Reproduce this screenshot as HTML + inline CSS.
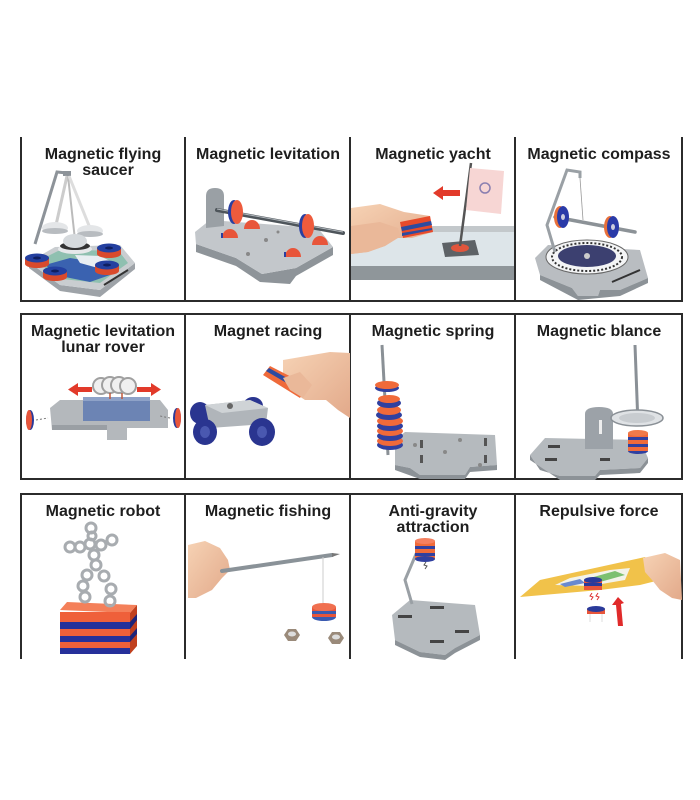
<!DOCTYPE html>
<html><head><meta charset="utf-8"><style>
html,body{margin:0;padding:0;background:#fff;}
svg{display:block;}
text{font-family:"Liberation Sans",Arial,sans-serif;font-weight:bold;font-size:16px;fill:#1e1e1e;text-anchor:middle;}
</style></head><body>
<svg width="700" height="800" viewBox="0 0 700 800" xmlns="http://www.w3.org/2000/svg">
<rect width="700" height="800" fill="#fff"/>
<defs>
<linearGradient id="metal" x1="0" y1="0" x2="0" y2="1"><stop offset="0" stop-color="#d4d8db"/><stop offset="1" stop-color="#9aa0a5"/></linearGradient>
<linearGradient id="skin" x1="0" y1="0" x2="1" y2="1"><stop offset="0" stop-color="#f6d2b4"/><stop offset="1" stop-color="#e2a98a"/></linearGradient>
</defs>

<!-- grid lines -->
<g stroke="#2b2b2b" stroke-width="2" fill="none">
<line x1="21" y1="137" x2="21" y2="302"/><line x1="185" y1="137" x2="185" y2="302"/><line x1="350" y1="137" x2="350" y2="302"/><line x1="515" y1="137" x2="515" y2="302"/><line x1="682" y1="137" x2="682" y2="302"/>
<line x1="20" y1="301" x2="683" y2="301"/>
<rect x="21" y="314" width="661" height="165"/>
<line x1="185" y1="314" x2="185" y2="479"/><line x1="350" y1="314" x2="350" y2="479"/><line x1="515" y1="314" x2="515" y2="479"/>
<line x1="20" y1="494" x2="683" y2="494"/>
<line x1="21" y1="494" x2="21" y2="659"/><line x1="185" y1="494" x2="185" y2="659"/><line x1="350" y1="494" x2="350" y2="659"/><line x1="515" y1="494" x2="515" y2="659"/><line x1="682" y1="494" x2="682" y2="659"/>
</g>

<!-- titles -->
<text x="103" y="159">Magnetic flying</text><text x="108" y="175">saucer</text>
<text x="268" y="159">Magnetic levitation</text>
<text x="433" y="159">Magnetic yacht</text>
<text x="599" y="159">Magnetic compass</text>
<text x="103" y="336">Magnetic levitation</text><text x="103" y="352">lunar rover</text>
<text x="268" y="336">Magnet racing</text>
<text x="433" y="336">Magnetic spring</text>
<text x="599" y="336">Magnetic blance</text>
<text x="103" y="516">Magnetic robot</text>
<text x="268" y="516">Magnetic fishing</text>
<text x="433" y="516">Anti-gravity</text><text x="433" y="532">attraction</text>
<text x="599" y="516">Repulsive force</text>

<!-- Cell 1: flying saucer -->
<g>
<polygon points="29,268 60,291 100,297 135,269 135,263 100,290 60,285 29,262" fill="#9ea3a8"/>
<polygon points="29,262 55,247 120,245 135,263 100,290 60,285" fill="#c9cdd0"/>
<polygon points="36,262 58,251 118,250 128,263 100,283 62,279" fill="#8fc0b0"/>
<polygon points="45,265 70,258 95,262 110,275 90,282 60,276" fill="#3a62b0"/>
<polygon points="75,255 100,256 112,262 98,268 80,263" fill="#e8eef2"/>
<line x1="104" y1="285" x2="128" y2="270" stroke="#333" stroke-width="2"/>
<polyline points="35,244 57,172 67,173" fill="none" stroke="#8d9399" stroke-width="3"/>
<rect x="63" y="171" width="8" height="5" fill="#8d9399"/>
<line x1="67" y1="176" x2="56" y2="225" stroke="#ccc" stroke-width="3"/>
<line x1="68" y1="176" x2="75" y2="240" stroke="#bbb" stroke-width="2"/>
<line x1="69" y1="176" x2="90" y2="228" stroke="#ddd" stroke-width="3"/>
<ellipse cx="55" cy="228" rx="13" ry="6" fill="#e4e6e8"/><ellipse cx="55" cy="231" rx="13" ry="3" fill="#b8bcc0"/>
<ellipse cx="90" cy="231" rx="13" ry="6" fill="#e4e6e8"/><ellipse cx="90" cy="234" rx="13" ry="3" fill="#b8bcc0"/>
<ellipse cx="75" cy="249" rx="17" ry="5" fill="#e6e8ea"/>
<ellipse cx="75" cy="246" rx="15" ry="4" fill="#333"/>
<ellipse cx="75" cy="241" rx="12" ry="7" fill="#d6dadd"/>
<g>
<rect x="25" y="258" width="24" height="6" fill="#d94a2c"/><ellipse cx="37" cy="264" rx="12" ry="4" fill="#d94a2c"/><ellipse cx="37" cy="258" rx="12" ry="4.5" fill="#2440a0"/><ellipse cx="37" cy="258" rx="4" ry="1.5" fill="#0f1f60"/>
<rect x="97" y="248" width="24" height="6" fill="#d94a2c"/><ellipse cx="109" cy="254" rx="12" ry="4" fill="#d94a2c"/><ellipse cx="109" cy="248" rx="12" ry="4.5" fill="#2440a0"/><ellipse cx="109" cy="248" rx="4" ry="1.5" fill="#0f1f60"/>
<rect x="43" y="271" width="24" height="6" fill="#d94a2c"/><ellipse cx="55" cy="277" rx="12" ry="4" fill="#d94a2c"/><ellipse cx="55" cy="271" rx="12" ry="4.5" fill="#2440a0"/><ellipse cx="55" cy="271" rx="4" ry="1.5" fill="#0f1f60"/>
<rect x="95" y="265" width="24" height="6" fill="#d94a2c"/><ellipse cx="107" cy="271" rx="12" ry="4" fill="#d94a2c"/><ellipse cx="107" cy="265" rx="12" ry="4.5" fill="#2440a0"/><ellipse cx="107" cy="265" rx="4" ry="1.5" fill="#0f1f60"/>
</g>
</g>

<!-- Cell 2: levitation -->
<g>
<polygon points="196,244 236,258 262,274 296,268 333,247 333,255 296,276 290,284 260,282 236,266 196,252" fill="#8e9499"/>
<polygon points="195,232 210,220 318,228 333,247 296,268 262,274 236,258 196,244" fill="#c3c7cb"/>
<path d="M206,228 L206,196 Q206,188 215,188 Q224,188 224,196 L224,226 Z" fill="#9aa0a5"/>
<path d="M222,238 A8,9 0 0 1 238,238 Z" fill="#e8553a"/><path d="M244,229 A8,9 0 0 1 260,229 Z" fill="#e8553a"/>
<path d="M285,257 A8,9 0 0 1 301,257 Z" fill="#e8553a"/><path d="M312,245 A8,9 0 0 1 328,245 Z" fill="#e8553a"/>
<line x1="222" y1="238" x2="222" y2="233" stroke="#2a3fa0" stroke-width="2"/><line x1="285" y1="257" x2="285" y2="252" stroke="#2a3fa0" stroke-width="2"/>
<circle cx="266" cy="240" r="2" fill="#888"/><circle cx="248" cy="254" r="2" fill="#888"/><circle cx="278" cy="232" r="1.5" fill="#888"/>
<line x1="217" y1="210" x2="343" y2="233" stroke="#4e555b" stroke-width="4" stroke-linecap="round"/>
<line x1="217" y1="209" x2="343" y2="232" stroke="#b0b6bb" stroke-width="1"/>
<ellipse cx="234" cy="212" rx="6" ry="12" fill="#2a3fa0"/><ellipse cx="237" cy="212" rx="6" ry="12" fill="#ee5b3d"/>
<ellipse cx="305" cy="226" rx="6" ry="12" fill="#2a3fa0"/><ellipse cx="308" cy="226" rx="6" ry="12" fill="#ee5b3d"/>
</g>

<!-- Cell 3: yacht -->
<g>
<rect x="351" y="226" width="163" height="6" fill="#c3c8cb"/>
<rect x="351" y="232" width="163" height="34" fill="#dde5e9"/>
<rect x="351" y="266" width="163" height="14" fill="#8f969a"/>
<polygon points="442,243 475,240 479,255 445,257" fill="#5d6266"/>
<ellipse cx="460" cy="248" rx="9" ry="4" fill="#e0553c"/>
<line x1="471" y1="163" x2="460" y2="246" stroke="#555" stroke-width="2.5"/>
<polygon points="470,168 504,171 501,214 466,210" fill="#f7d6d4"/>
<circle cx="485" cy="188" r="5" fill="none" stroke="#8a7fb0" stroke-width="1.5"/>
<polygon points="433,193 443,186 443,200" fill="#e23a2a"/><rect x="442" y="190" width="18" height="6" fill="#e23a2a"/>
<polygon points="351,208 380,204 404,212 430,216 433,232 412,238 398,238 385,246 368,252 351,254" fill="url(#skin)"/>
<polygon points="400,222 430,216 433,232 403,238" fill="#e84a2a"/>
<polygon points="401,227 431,221 432,225 402,231" fill="#2d4ba0"/>
<polygon points="402,233 432,228 432,230 402,236" fill="#2d4ba0"/>
<polygon points="351,226 380,222 398,228 400,236 385,246 368,252 351,254" fill="#eab899"/>
</g>

<!-- Cell 4: compass -->
<g>
<polygon points="535,258 548,245 640,250 648,278 620,290 600,290 598,296 578,296 572,288 540,275" fill="#b9bdc1"/>
<polygon points="540,275 572,288 578,296 598,296 600,290 620,290 648,278 648,283 620,296 578,300 540,280" fill="#8c9297"/>
<line x1="612" y1="282" x2="640" y2="270" stroke="#333" stroke-width="2"/>
<ellipse cx="587" cy="257" rx="41" ry="17" fill="#f4f5f6" stroke="#666" stroke-width="1"/>
<ellipse cx="587" cy="257" rx="35" ry="14" fill="none" stroke="#333" stroke-width="2" stroke-dasharray="2,2"/>
<ellipse cx="587" cy="256" rx="29" ry="11" fill="#3c4070"/>
<circle cx="587" cy="256" r="3" fill="#ccc"/>
<polyline points="555,252 547,225 567,170 580,172 580,178" fill="none" stroke="#9aa0a5" stroke-width="3"/>
<line x1="580" y1="178" x2="583" y2="220" stroke="#999" stroke-width="0.8"/>
<line x1="555" y1="217" x2="635" y2="232" stroke="#8c9297" stroke-width="3.5" stroke-linecap="round"/>
<ellipse cx="560" cy="217" rx="6" ry="11" fill="#e8703a"/><ellipse cx="563" cy="217" rx="6" ry="11" fill="#2a3aa8"/><ellipse cx="563" cy="217" rx="2" ry="3" fill="#ccd"/>
<ellipse cx="610" cy="227" rx="6" ry="11" fill="#e8703a"/><ellipse cx="613" cy="227" rx="6" ry="11" fill="#2a3aa8"/><ellipse cx="613" cy="227" rx="2" ry="3" fill="#ccd"/>
</g>

<!-- Cell 5: lunar rover -->
<g>
<polygon points="50,408 60,400 160,400 168,410 168,428 127,428 127,440 107,440 107,430 52,430" fill="#b4b8bc"/>
<polygon points="52,425 107,425 107,430 52,430" fill="#9a9fa4"/>
<rect x="83" y="399" width="67" height="22" fill="#6c84b4"/>
<rect x="83" y="397" width="67" height="4" fill="#8ea2c8"/>
<g fill="#f0f0f0" stroke="#a0a0a0" stroke-width="2">
<circle cx="101" cy="386" r="8"/><circle cx="110" cy="385" r="8"/><circle cx="119" cy="385" r="8"/><circle cx="128" cy="386" r="8"/>
</g>
<line x1="110" y1="393" x2="110" y2="399" stroke="#c0583a" stroke-width="1.5"/><line x1="122" y1="393" x2="122" y2="399" stroke="#c0583a" stroke-width="1.5"/>
<rect x="76" y="387" width="16" height="5" fill="#e23a2a"/><polygon points="68,389.5 78,383 78,396" fill="#e23a2a"/>
<rect x="137" y="387" width="16" height="5" fill="#e23a2a"/><polygon points="161,389.5 151,383 151,396" fill="#e23a2a"/>
<ellipse cx="30" cy="420" rx="4" ry="10" fill="#2a3a9a"/><ellipse cx="29" cy="420" rx="3" ry="10" fill="#e8553a"/>
<ellipse cx="177" cy="418" rx="4" ry="10" fill="#2a3a9a"/><ellipse cx="178" cy="418" rx="3" ry="10" fill="#e8553a"/>
<line x1="36" y1="420" x2="48" y2="418" stroke="#777" stroke-dasharray="2,2"/><line x1="170" y1="418" x2="160" y2="416" stroke="#777" stroke-dasharray="2,2"/>
</g>

<!-- Cell 6: racing -->
<g>
<ellipse cx="253" cy="406" rx="10" ry="9" fill="#2a3590"/>
<ellipse cx="200" cy="413" rx="10" ry="11" fill="#2a3590"/>
<polygon points="205,405 250,400 268,408 266,424 210,428" fill="#b0b5ba"/>
<polygon points="205,405 250,400 268,408 222,413" fill="#cfd3d6"/>
<circle cx="230" cy="406" r="3" fill="#666"/>
<ellipse cx="205" cy="432" rx="12" ry="13" fill="#2a3590"/><ellipse cx="205" cy="432" rx="5" ry="6" fill="#4a58b0"/>
<ellipse cx="262" cy="432" rx="13" ry="14" fill="#2a3590"/><ellipse cx="262" cy="432" rx="5" ry="6" fill="#4a58b0"/>
<polygon points="283,360 330,352 350,353 350,418 338,410 326,400 305,400 290,390 283,378" fill="url(#skin)"/>
<polygon points="263,375 270,366 307,385 300,398" fill="#ef6a3a"/>
<polygon points="266,371 269,368 305,388 302,392" fill="#2d4ba0"/>
<polygon points="283,378 300,372 312,385 303,398 290,390" fill="#eab899"/>
</g>

<!-- Cell 7: spring -->
<g>
<polygon points="395,440 405,432 495,435 497,465 470,467 465,475 420,475 410,468 395,465" fill="#b5babe"/>
<polygon points="395,465 410,468 420,475 465,475 470,467 497,465 497,470 470,472 465,479 420,479 395,470" fill="#8c9297"/>
<g fill="#555"><rect x="420" y="440" width="3" height="8"/><rect x="484" y="438" width="3" height="8"/><rect x="420" y="455" width="3" height="8"/><rect x="484" y="455" width="3" height="8"/></g>
<g fill="#888"><circle cx="415" cy="445" r="2"/><circle cx="460" cy="440" r="2"/><circle cx="445" cy="452" r="2"/><circle cx="480" cy="465" r="2"/></g>
<line x1="382" y1="345" x2="388" y2="455" stroke="#8a9096" stroke-width="3"/>
<g>
<ellipse cx="390" cy="445" rx="13" ry="5" fill="#3040a0"/><ellipse cx="390" cy="441" rx="13" ry="5" fill="#f06a3a"/>
<ellipse cx="390" cy="436" rx="13" ry="5" fill="#3040a0"/><ellipse cx="390" cy="431" rx="13" ry="5" fill="#f06a3a"/>
<ellipse cx="390" cy="426" rx="13" ry="5" fill="#3040a0"/><ellipse cx="390" cy="421" rx="13" ry="5" fill="#f06a3a"/>
<ellipse cx="389" cy="415" rx="13" ry="5" fill="#3040a0"/><ellipse cx="389" cy="410" rx="12" ry="5" fill="#f06a3a"/>
<ellipse cx="389" cy="403" rx="12" ry="5" fill="#3040a0"/><ellipse cx="389" cy="399" rx="11" ry="4" fill="#f06a3a"/>
<ellipse cx="387" cy="388" rx="12" ry="4" fill="#3040a0"/><ellipse cx="387" cy="385" rx="12" ry="4" fill="#f06a3a"/>
</g>
</g>

<!-- Cell 8: balance -->
<g>
<polygon points="530,455 545,438 640,440 648,458 640,468 600,470 595,476 560,476 540,470" fill="#b5babe"/>
<polygon points="530,455 540,470 560,476 595,476 600,470 640,468 648,458 648,463 640,473 600,475 595,480 560,480 530,460" fill="#8c9297"/>
<g fill="#444"><rect x="548" y="445" width="12" height="3"/><rect x="545" y="458" width="12" height="3"/><rect x="600" y="458" width="10" height="3"/></g>
<path d="M585,449 L585,414 Q585,407 599,407 Q613,407 613,414 L613,449 Z" fill="#9ca2a8"/>
<rect x="599" y="420" width="3" height="14" fill="#eee"/>
<line x1="635" y1="345" x2="638" y2="425" stroke="#8a9096" stroke-width="3"/>
<ellipse cx="638" cy="451" rx="10" ry="3" fill="#3040a0"/>
<rect x="628" y="433" width="20" height="18" fill="#f06a3a"/>
<rect x="628" y="437" width="20" height="3" fill="#3040a0"/><rect x="628" y="444" width="20" height="3" fill="#3040a0"/>
<ellipse cx="638" cy="433" rx="10" ry="3" fill="#f07a4a"/>
<ellipse cx="637" cy="418" rx="26" ry="8" fill="#dfe2e5" stroke="#8a9096" stroke-width="1.5"/>
<ellipse cx="637" cy="418" rx="18" ry="5" fill="#c8ccd0"/>
</g>

<!-- Cell 9: robot -->
<g>
<polygon points="60,610 67,602 137,605 130,613" fill="#f4805a"/>
<polygon points="130,613 137,605 137,646 130,654" fill="#c0401e"/>
<rect x="60" y="612" width="70" height="42" fill="#ef603a"/>
<rect x="60" y="622" width="70" height="7" fill="#26309a"/>
<rect x="60" y="636" width="70" height="6" fill="#26309a"/>
<rect x="60" y="648" width="70" height="6" fill="#26309a"/>
<polygon points="130,622 137,614 137,620 130,629" fill="#1c247a"/><polygon points="130,636 137,628 137,634 130,642" fill="#1c247a"/>
<g fill="none" stroke="#a8acb0" stroke-width="3">
<circle cx="91" cy="528" r="5"/>
<circle cx="70" cy="547" r="5"/><circle cx="80" cy="547" r="5"/><circle cx="90" cy="544" r="5"/><circle cx="101" cy="545" r="5"/><circle cx="112" cy="540" r="5"/>
<circle cx="92" cy="536" r="4"/>
<circle cx="94" cy="555" r="5"/><circle cx="96" cy="565" r="5"/>
<circle cx="87" cy="575" r="5"/><circle cx="83" cy="586" r="5"/><circle cx="85" cy="597" r="5"/>
<circle cx="104" cy="576" r="5"/><circle cx="111" cy="589" r="5"/><circle cx="110" cy="601" r="5"/>
</g>
</g>

<!-- Cell 10: fishing -->
<g>
<polygon points="188,545 205,541 220,548 228,560 230,570 222,578 212,590 196,598 188,598" fill="url(#skin)"/>
<line x1="222" y1="571" x2="332" y2="555" stroke="#8a9298" stroke-width="4" stroke-linecap="round"/>
<polygon points="332,553 340,554 332,557" fill="#777"/>
<line x1="323" y1="557" x2="323" y2="606" stroke="#ccc" stroke-width="1"/>
<ellipse cx="324" cy="617" rx="12" ry="4" fill="#3a5ab0"/>
<rect x="312" y="607" width="24" height="10" fill="#e8553a"/>
<rect x="312" y="611" width="24" height="3" fill="#3a5ab0"/>
<ellipse cx="324" cy="607" rx="12" ry="4" fill="#f07050"/>
<polygon points="284,635 288,629 296,629 300,635 296,641 288,641" fill="#9a8a7a"/><ellipse cx="292" cy="634" rx="4" ry="2.5" fill="#ddd"/>
<polygon points="328,638 332,632 340,632 344,638 340,644 332,644" fill="#9a8a7a"/><ellipse cx="336" cy="637" rx="4" ry="2.5" fill="#ddd"/>
</g>

<!-- Cell 11: anti-gravity -->
<g>
<polygon points="392,615 410,600 475,605 480,635 455,648 445,655 420,652 395,640" fill="#b5babe"/>
<polygon points="395,640 420,652 445,655 455,648 480,635 480,640 455,653 445,660 420,657 395,645" fill="#8c9297"/>
<g fill="#444"><rect x="398" y="615" width="14" height="3"/><rect x="430" y="606" width="14" height="3"/><rect x="430" y="640" width="14" height="3"/><rect x="455" y="630" width="14" height="3"/></g>
<polyline points="412,604 405,580 422,540" fill="none" stroke="#9aa0a5" stroke-width="3"/>
<rect x="415" y="541" width="20" height="18" fill="#f06a3a"/>
<rect x="415" y="546" width="20" height="3" fill="#3040a0"/><rect x="415" y="553" width="20" height="3" fill="#3040a0"/>
<ellipse cx="425" cy="559" rx="10" ry="3" fill="#3040a0"/>
<ellipse cx="425" cy="541" rx="10" ry="3" fill="#f48060"/>
<path d="M426,562 l-2,3 l3,1 l-2,3" fill="none" stroke="#555" stroke-width="1"/>
</g>

<!-- Cell 12: repulsive -->
<g>
<polygon points="520,597 540,580 645,557 668,578 640,585 600,590" fill="#f1c24a"/>
<polygon points="555,585 570,578 610,570 630,568 625,580 590,586" fill="#f3f3ea"/>
<polygon points="590,578 615,571 625,575 600,582" fill="#7cc070"/>
<polygon points="560,584 580,579 585,583 565,587" fill="#6a8ad0"/>
<polygon points="643,558 665,553 680,560 682,600 672,598 660,590 652,580 645,572" fill="url(#skin)"/>
<rect x="584" y="580" width="18" height="10" fill="#e8553a"/><rect x="584" y="583" width="18" height="3" fill="#2a3a9a"/><ellipse cx="593" cy="580" rx="9" ry="3" fill="#2a3a9a"/>
<path d="M592,593 l-2,3 l3,1 l-2,3 M598,593 l-2,3 l3,1 l-2,3" fill="none" stroke="#d33" stroke-width="1"/>
<rect x="587" y="609" width="18" height="5" fill="#e8553a"/><ellipse cx="596" cy="609" rx="9" ry="3" fill="#2a3a9a"/>
<line x1="590" y1="614" x2="590" y2="622" stroke="#ddd"/><line x1="602" y1="614" x2="602" y2="622" stroke="#ddd"/>
<polygon points="612,605 618,597 624,603 621,604 623,626 618,626 616,605" fill="#e02a2a"/>
</g>
</svg>
</body></html>
